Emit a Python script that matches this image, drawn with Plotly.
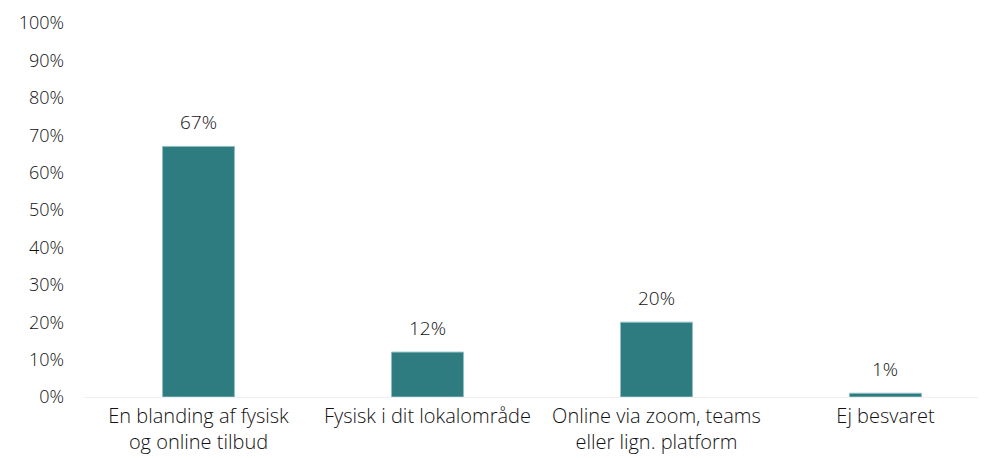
import plotly.graph_objects as go

categories = ["En blanding af fysisk<br>og online tilbud", "Fysisk i dit lokalområde",
              "Online via zoom, teams<br>eller lign. platform", "Ej besvaret"]
values = [67, 12, 20, 1]
labels = ["67%", "12%", "20%", "1%"]
tick_vals = [0, 10, 20, 30, 40, 50, 60, 70, 80, 90, 100]
tick_text = ["0%", "10%", "20%", "30%", "40%", "50%", "60%", "70%", "80%", "90%", "100%"]

FONT = "Open Sans"
TXT = "#111111"
W = 300

fig = go.Figure(go.Bar(
    x=categories, y=values,
    marker=dict(color="#2E7C80", line=dict(color="#8FBFC1", width=1)),
    width=0.314,
    hoverinfo="skip",
))

for c, v, t in zip(categories, values, labels):
    fig.add_annotation(x=c, y=v, text=t, showarrow=False, yanchor="bottom",
                       yshift=9, font=dict(family=FONT, size=19, color=TXT, weight=W))

# page body has an 8px margin, so the figure is 8px smaller and offsets reduced
fig.update_layout(
    width=978, height=450,
    margin=dict(l=76, r=0, t=15, b=61, autoexpand=False),
    paper_bgcolor="white", plot_bgcolor="white",
    showlegend=False,
    font=dict(family=FONT, size=19, color=TXT, weight=W),
    xaxis=dict(range=[-0.5, 3.439], showgrid=False, zeroline=False, showline=False,
               tickfont=dict(family=FONT, size=20, color=TXT, weight=W), ticks="",
               ticklabelstandoff=5, automargin=False),
    yaxis=dict(range=[0, 100], tickvals=tick_vals, ticktext=tick_text,
               showgrid=False, zeroline=True, zerolinecolor="#EFEFEF", zerolinewidth=1,
               showline=False, ticks="", ticklabelstandoff=19, automargin=False,
               tickfont=dict(family=FONT, size=18, color=TXT, weight=W)),
)

fig.write_html("out.html")
